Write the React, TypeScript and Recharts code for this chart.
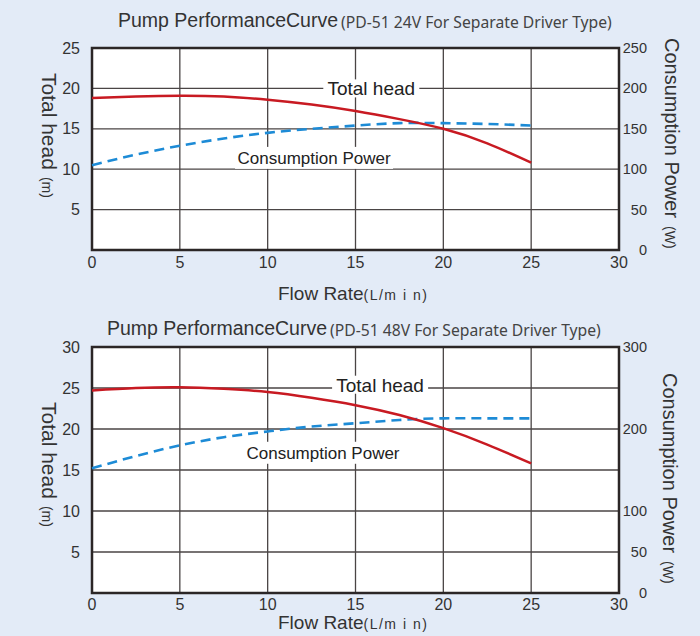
import React from 'react';
import {
  ComposedChart,
  Line,
  XAxis,
  YAxis,
  CartesianGrid,
  ReferenceArea,
  ReferenceDot,
} from 'recharts';

// ---------- data ----------
const flowRate = [0, 2.5, 5, 7.5, 10, 12.5, 15, 17.5, 20, 22.5, 25];
const head24 = [18.8, 19.0, 19.1, 19.0, 18.6, 18.0, 17.2, 16.2, 15.0, 13.2, 10.8];
const power24 = [105, 118, 129, 138, 145, 150, 154, 157, 157, 156, 154];
const head48 = [24.7, 25.0, 25.1, 24.9, 24.5, 23.8, 22.9, 21.7, 20.1, 18.1, 15.8];
const power48 = [152, 167, 180, 190, 197, 203, 207, 211, 213, 213, 213];

const xTicks = [0, 5, 10, 15, 20, 25, 30];
const head24Ticks = [5, 10, 15, 20, 25];
const power24Ticks = [0, 50, 100, 150, 200, 250];
const head48Ticks = [5, 10, 15, 20, 25, 30];
const power48Ticks = [0, 50, 100, 200, 300];

const title = 'Pump PerformanceCurve';
const subtitle24 = '(PD-51 24V For Separate Driver Type)';
const subtitle48 = '(PD-51 48V For Separate Driver Type)';
const headLabel = 'Total head';
const powerLabel = 'Consumption Power';

// ---------- styles ----------
const FONT = "'Liberation Sans', Arial, sans-serif";
const SUBFONT = "'Noto Sans', 'Open Sans', sans-serif";
const TEXT = '#333';
const BG = '#e3ebf7';
const RED = '#c81a22';
const BLUE = '#1d8bd6';
const GRID = '#4a4545';

const rows = (heads: number[], powers: number[]) =>
  flowRate.map((f, i) => ({ flow: f, head: heads[i], power: powers[i] }));

const XTick = (dy: number) => (p: any) => (
  <text x={p.x} y={p.y + dy} textAnchor="middle" fontSize={16} fill={TEXT} fontFamily={FONT}>
    {p.payload.value}
  </text>
);
const LTick = (p: any) => (
  <text x={p.x - 12} y={p.y + 5.5} textAnchor="end" fontSize={16} fill={TEXT} fontFamily={FONT}>
    {p.payload.value}
  </text>
);
const RTick = (p: any) => (
  <text x={p.x + 28} y={p.y + 5} textAnchor="end" fontSize={14.5} fill={TEXT} fontFamily={FONT}>
    {p.payload.value}
  </text>
);

const boxLabel = (text: string, size: number, w: number, h: number) => (p: any) => (
  <g>
    <rect x={p.cx - w / 2} y={p.cy - h / 2} width={w} height={h} fill="#fff" />
    <text x={p.cx} y={p.cy + size * 0.36} textAnchor="middle" fontSize={size} fill="#222" fontFamily={FONT}>
      {text}
    </text>
  </g>
);

type ChartProps = {
  data: any[];
  headTicks: number[];
  headMax: number;
  powerTicks: number[];
  powerMax: number;
  marginTop: number;
  xAxisHeight: number;
  xTickDy: number;
  headAt: [number, number];
  powerAt: [number, number];
};

function PumpChart(props: ChartProps) {
  const { data, headTicks, headMax, powerTicks, powerMax, marginTop, xAxisHeight, xTickDy, headAt, powerAt } = props;
  return (
    <ComposedChart width={700} height={318} data={data} margin={{ top: marginTop, right: 0, bottom: 0, left: 0 }}>
      <CartesianGrid xAxisId="x" yAxisId="left" stroke={GRID} strokeWidth={1.3} fill="#fff" fillOpacity={1} />
      <XAxis
        xAxisId="x"
        dataKey="flow"
        type="number"
        domain={[0, 30]}
        ticks={xTicks}
        interval={0}
        height={xAxisHeight}
        axisLine={false}
        tickLine={false}
        tickSize={0}
        tickMargin={0}
        tick={XTick(xTickDy)}
      />
      <YAxis
        yAxisId="left"
        orientation="left"
        width={92}
        type="number"
        domain={[0, headMax]}
        ticks={headTicks}
        interval={0}
        axisLine={false}
        tickLine={false}
        tickSize={0}
        tickMargin={0}
        tick={LTick}
      />
      <YAxis
        yAxisId="right"
        orientation="right"
        width={81}
        type="number"
        domain={[0, powerMax]}
        ticks={powerTicks}
        interval={0}
        axisLine={false}
        tickLine={false}
        tickSize={0}
        tickMargin={0}
        tick={RTick}
      />
      <ReferenceArea
        xAxisId="x"
        yAxisId="left"
        x1={0}
        x2={30}
        y1={0}
        y2={headMax}
        fill="none"
        fillOpacity={0}
        stroke="#2b2626"
        strokeWidth={2.5}
        ifOverflow="visible"
      />
      <ReferenceDot
        xAxisId="x"
        yAxisId="left"
        x={headAt[0]}
        y={headAt[1]}
        r={1}
        ifOverflow="visible"
        shape={boxLabel(headLabel, 19, 96, 18)}
      />
      <ReferenceDot
        xAxisId="x"
        yAxisId="left"
        x={powerAt[0]}
        y={powerAt[1]}
        r={1}
        ifOverflow="visible"
        shape={boxLabel(powerLabel, 17, 158, 22)}
      />
      <Line
        xAxisId="x"
        yAxisId="right"
        dataKey="power"
        type="natural"
        stroke={BLUE}
        strokeWidth={2.6}
        strokeDasharray="10 6"
        dot={false}
        activeDot={false}
        isAnimationActive={false}
      />
      <Line
        xAxisId="x"
        yAxisId="left"
        dataKey="head"
        type="natural"
        stroke={RED}
        strokeWidth={2.5}
        dot={false}
        activeDot={false}
        isAnimationActive={false}
      />
    </ComposedChart>
  );
}

function Titles({ top, titleX, sub }: { top: number; titleX: number; sub: string }) {
  return (
    <g>
      <text x={titleX} y={top + 27} fontSize={19.5} fontFamily={FONT} fill={TEXT}>{title}</text>
      <text x={titleX + 223} y={top + 28} fontSize={15.7} fontFamily={SUBFONT} fill="#444">{sub}</text>
    </g>
  );
}

export default function App() {
  return (
    <div style={{ position: 'absolute', left: 0, top: 0, width: 700, height: 636, background: BG, overflow: 'hidden' }}>
      <div style={{ position: 'absolute', left: 0, top: 0 }}>
        <PumpChart
          data={rows(head24, power24)}
          headTicks={head24Ticks}
          headMax={25}
          powerTicks={power24Ticks}
          powerMax={250}
          marginTop={48}
          xAxisHeight={68}
          xTickDy={18}
          headAt={[15.9, 20]}
          powerAt={[12.64, 11.4]}
        />
      </div>
      <div style={{ position: 'absolute', left: 0, top: 318 }}>
        <PumpChart
          data={rows(head48, power48)}
          headTicks={head48Ticks}
          headMax={30}
          powerTicks={power48Ticks}
          powerMax={300}
          marginTop={29}
          xAxisHeight={43}
          xTickDy={17}
          headAt={[16.4, 25.4]}
          powerAt={[13.15, 17.1]}
        />
      </div>
      <svg width={700} height={636} style={{ position: 'absolute', left: 0, top: 0, pointerEvents: 'none' }}>
        <Titles top={0} titleX={118} sub={subtitle24} />
        <Titles top={308} titleX={107} sub={subtitle48} />
        <g fontFamily={FONT} fill={TEXT}>
          <text x={278} y={300} fontSize={19}>
            Flow Rate<tspan fontSize={14} letterSpacing={1.5}>(L/m i n)</tspan>
          </text>
          <text x={278} y={629} fontSize={19}>
            Flow Rate<tspan fontSize={14} letterSpacing={1.5}>(L/m i n)</tspan>
          </text>
          <text transform="translate(42,73) rotate(90)" fontSize={21}>
            {headLabel}<tspan fontSize={14} dx={7}>(m)</tspan>
          </text>
          <text transform="translate(42,402) rotate(90)" fontSize={21}>
            {headLabel}<tspan fontSize={14} dx={7}>(m)</tspan>
          </text>
          <text transform="translate(665,38) rotate(90)" fontSize={20}>
            {powerLabel}<tspan fontSize={14} dx={8}>(W)</tspan>
          </text>
          <text transform="translate(663,373) rotate(90)" fontSize={20}>
            {powerLabel}<tspan fontSize={14} dx={8}>(W)</tspan>
          </text>
        </g>
      </svg>
    </div>
  );
}
